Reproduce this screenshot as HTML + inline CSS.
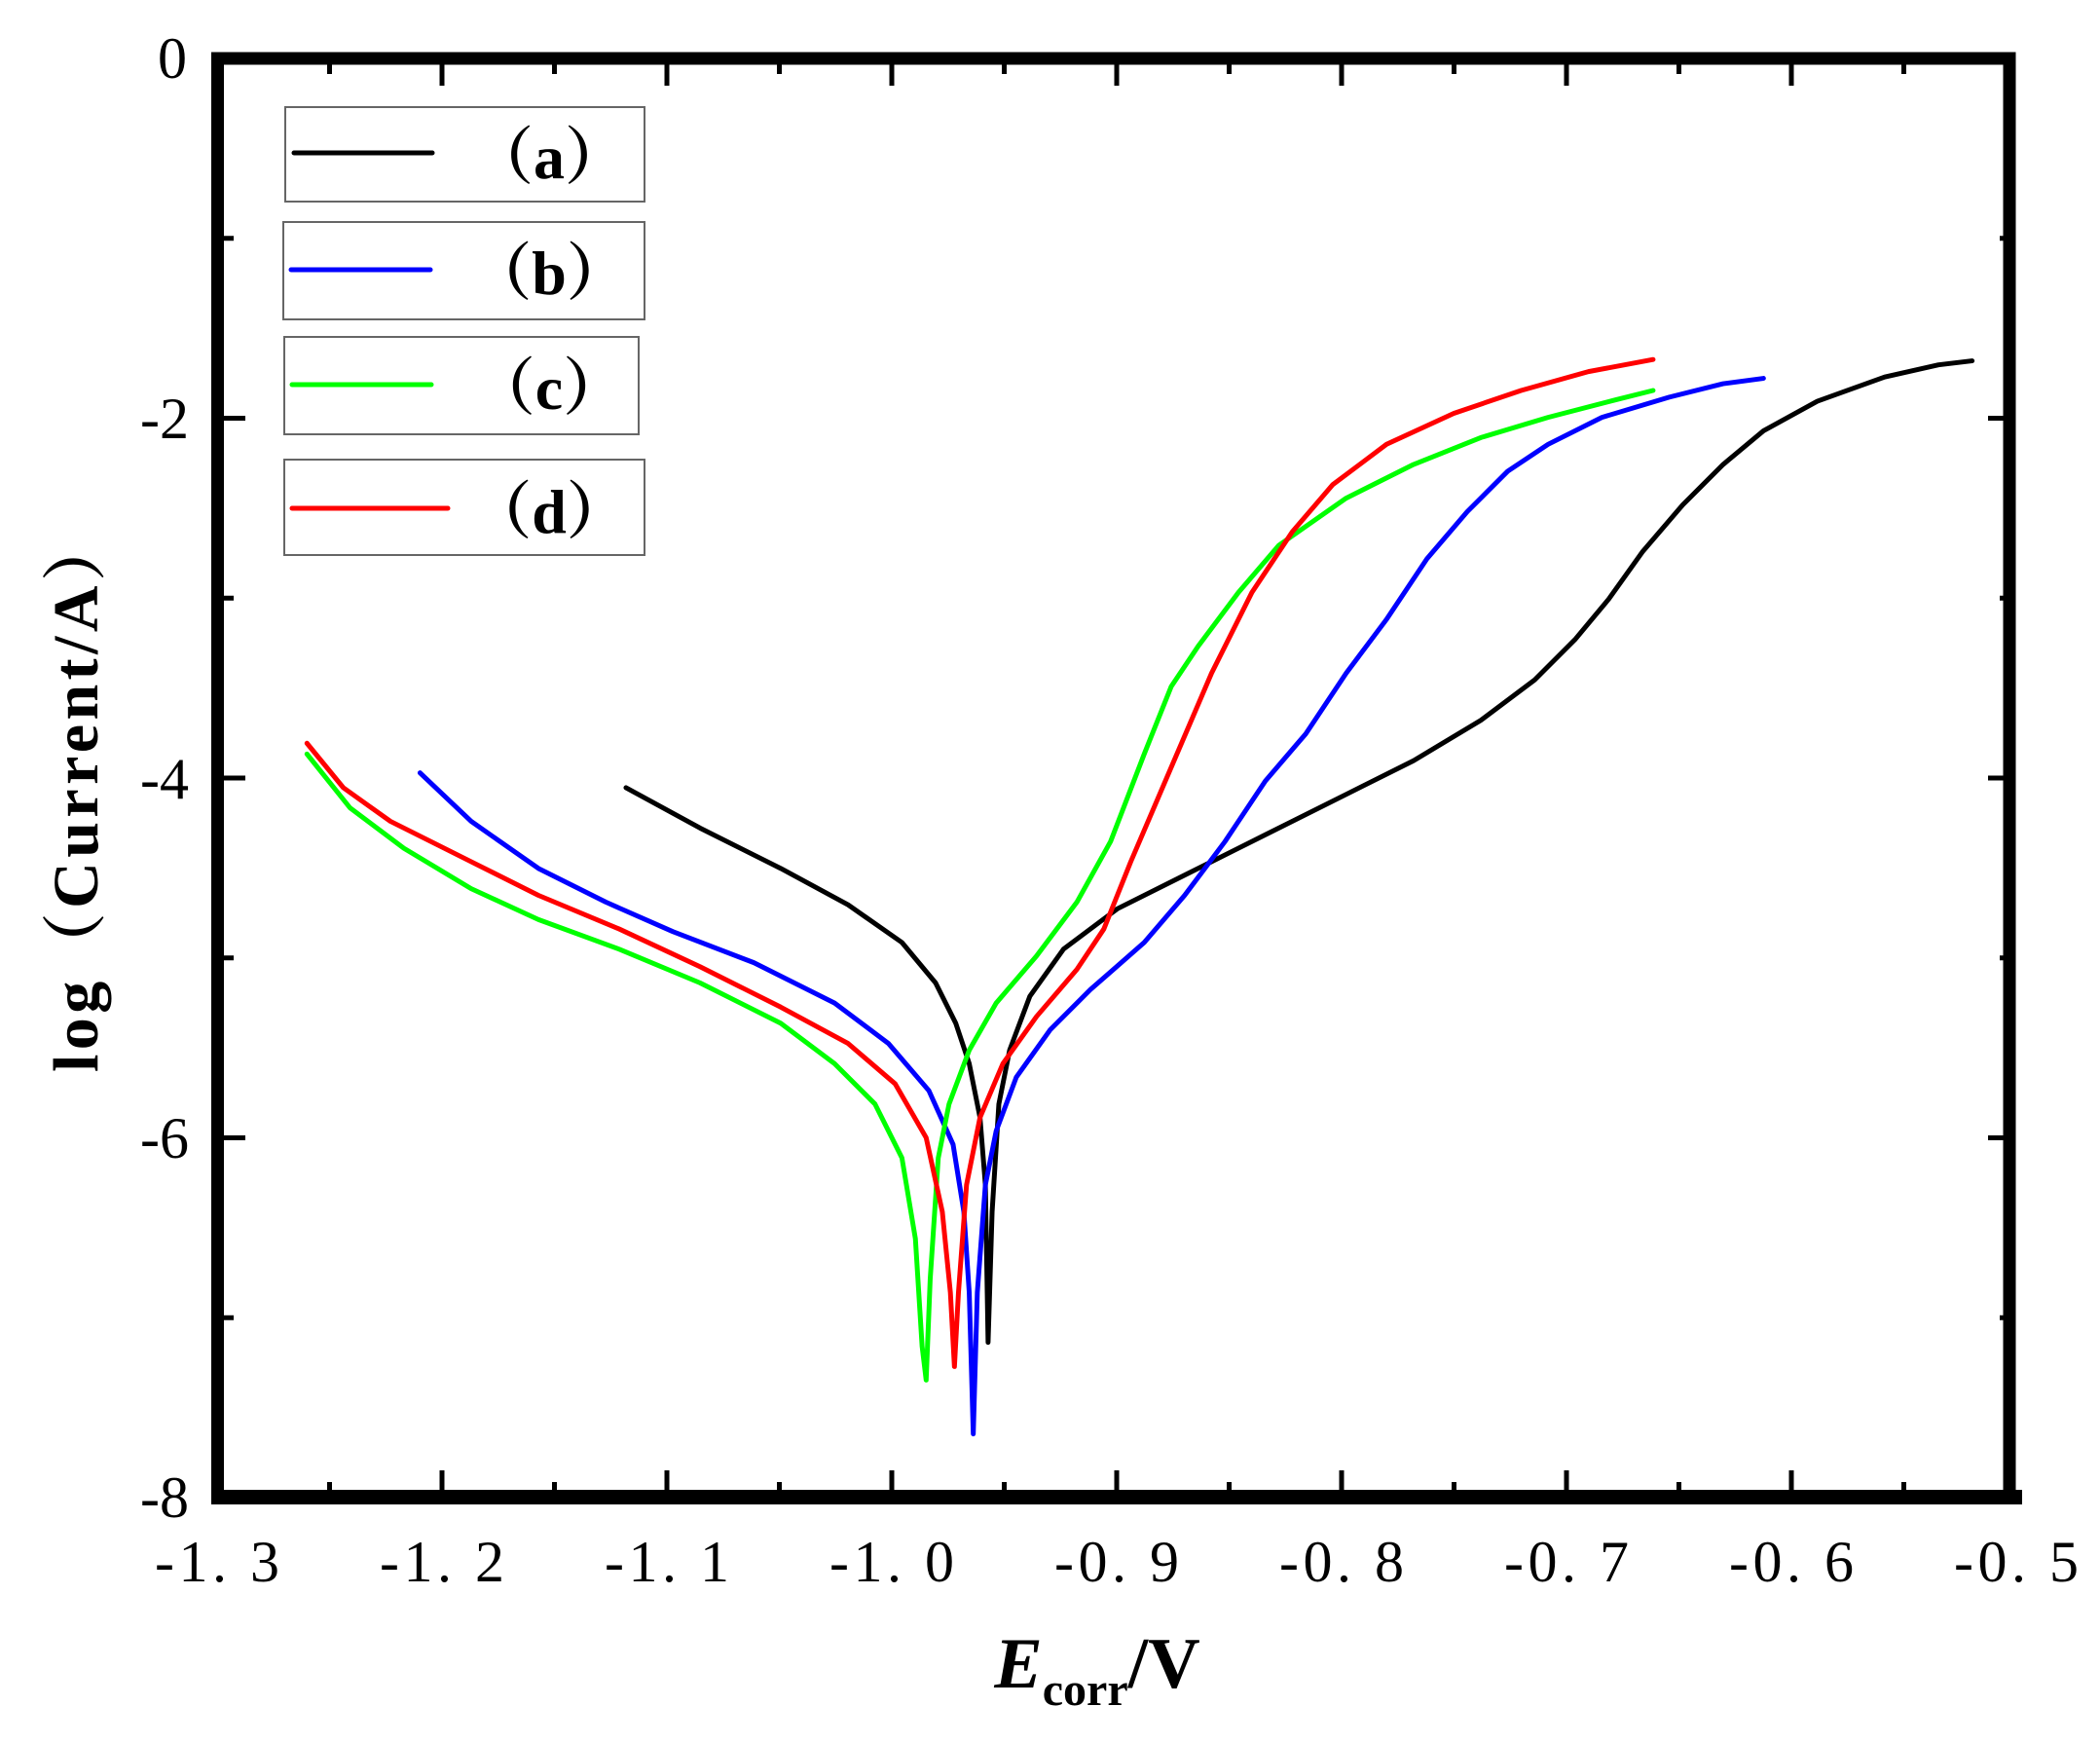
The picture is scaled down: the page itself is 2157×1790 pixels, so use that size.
<!DOCTYPE html>
<html><head><meta charset="utf-8"><style>html,body{margin:0;padding:0;background:#fff}svg{display:block}</style></head>
<body>
<svg width="2157" height="1790" viewBox="0 0 2157 1790" xmlns="http://www.w3.org/2000/svg">
<g stroke="#000" stroke-width="5">
<g id="xt">
<line x1="223" y1="1532" x2="223" y2="1510"/><line x1="338.5" y1="1532" x2="338.5" y2="1522"/>
<line x1="454" y1="1532" x2="454" y2="1510"/><line x1="569.5" y1="1532" x2="569.5" y2="1522"/>
<line x1="685" y1="1532" x2="685" y2="1510"/><line x1="800.5" y1="1532" x2="800.5" y2="1522"/>
<line x1="916" y1="1532" x2="916" y2="1510"/><line x1="1031.5" y1="1532" x2="1031.5" y2="1522"/>
<line x1="1147" y1="1532" x2="1147" y2="1510"/><line x1="1262.5" y1="1532" x2="1262.5" y2="1522"/>
<line x1="1378" y1="1532" x2="1378" y2="1510"/><line x1="1493.5" y1="1532" x2="1493.5" y2="1522"/>
<line x1="1609" y1="1532" x2="1609" y2="1510"/><line x1="1724.5" y1="1532" x2="1724.5" y2="1522"/>
<line x1="1840" y1="1532" x2="1840" y2="1510"/><line x1="1955.5" y1="1532" x2="1955.5" y2="1522"/>
</g>
<use href="#xt" transform="translate(0,1598) scale(1,-1)"/>
<g id="yt">
<line x1="230" y1="244.75" x2="240" y2="244.75"/><line x1="230" y1="429.5" x2="252" y2="429.5"/>
<line x1="230" y1="614.25" x2="240" y2="614.25"/><line x1="230" y1="799" x2="252" y2="799"/>
<line x1="230" y1="983.75" x2="240" y2="983.75"/><line x1="230" y1="1168.5" x2="252" y2="1168.5"/>
<line x1="230" y1="1353.25" x2="240" y2="1353.25"/>
</g>
<use href="#yt" transform="translate(2294,0) scale(-1,1)"/>
</g>
<rect x="223.5" y="60" width="1840.5" height="1478" fill="none" stroke="#000" stroke-width="13"/>
<rect x="217" y="1530" width="1860" height="15" fill="#000"/>

<g font-family="Liberation Serif, serif" font-size="60" fill="#000">
<g text-anchor="end">
<text x="192" y="80">0</text>
<text x="194" y="450">-2</text>
<text x="194" y="820">-4</text>
<text x="194" y="1189">-6</text>
<text x="194" y="1558">-8</text>
</g>
<g text-anchor="middle" transform="translate(0,1624)">
<text x="223" textLength="128">-1. 3</text>
<text x="454" textLength="128">-1. 2</text>
<text x="685" textLength="128">-1. 1</text>
<text x="916" textLength="128">-1. 0</text>
<text x="1147" textLength="128">-0. 9</text>
<text x="1378" textLength="128">-0. 8</text>
<text x="1609" textLength="128">-0. 7</text>
<text x="1840" textLength="128">-0. 6</text>
<text x="2071" textLength="128">-0. 5</text>
</g>
</g>

<text transform="translate(100,816) rotate(-90)" text-anchor="middle" font-family="Liberation Serif, 'Noto Serif CJK SC', serif" font-weight="bold" font-size="66" textLength="570">log（Current/A）</text>
<text x="1127" y="1733" text-anchor="middle" font-family="Liberation Serif, serif" font-weight="bold" font-size="74"><tspan font-style="italic">E</tspan><tspan font-size="48" dy="18">corr</tspan><tspan dy="-18">/V</tspan></text>

<g fill="#fff" stroke="#666" stroke-width="2">
<rect x="293" y="110" width="369" height="97"/>
<rect x="291" y="228" width="371" height="100"/>
<rect x="292" y="346" width="364" height="100"/>
<rect x="292" y="472" width="370" height="98"/>
</g>
<g stroke-width="5" stroke-linecap="round">
<line x1="302" y1="157" x2="444" y2="157" stroke="#000"/>
<line x1="299" y1="277" x2="442" y2="277" stroke="#00f"/>
<line x1="300" y1="395" x2="443" y2="395" stroke="#0f0"/>
<line x1="300" y1="522" x2="460" y2="522" stroke="#f00"/>
</g>
<g font-family="Liberation Serif, 'Noto Serif CJK SC', serif" font-weight="bold" font-size="64" text-anchor="middle">
<text x="564" y="183">（a）</text>
<text x="564" y="302">（b）</text>
<text x="564" y="420">（c）</text>
<text x="564" y="547">（d）</text>
</g>

<g transform="scale(1.3827)" fill="none" stroke-width="3.6" stroke-linejoin="round" stroke-linecap="round">
<polyline stroke="#000" points="465,585 520,615 580,645 630,672 670,700 695,730 710,760 720,790 728,830 732,880 734,997 737,900 742,820 750,780 765,740 790,705 830,675 880,650 940,620 1000,590 1050,565 1100,535 1140,505 1170,475 1195,445 1220,410 1250,375 1280,345 1310,320 1350,298 1400,280 1440,271 1465,268"/>
<polyline stroke="#00f" points="312,574 350,610 400,645 450,670 500,692 560,715 620,745 660,775 690,810 708,850 716,900 720,960 723,1065 726,960 732,880 740,840 755,800 780,765 810,735 850,700 880,665 910,625 940,580 970,545 1000,500 1030,460 1060,415 1090,380 1120,350 1150,330 1190,310 1240,295 1280,285 1310,281"/>
<polyline stroke="#0f0" points="228,560 260,600 300,630 350,660 400,683 460,705 520,730 580,760 620,790 650,820 670,860 680,920 685,1000 688,1025 691,950 697,860 705,820 720,780 740,745 770,710 800,670 825,625 850,560 870,510 890,480 920,440 950,405 1000,370 1050,345 1100,325 1150,310 1200,297 1228,290"/>
<polyline stroke="#f00" points="228,552 255,585 290,610 350,640 400,665 460,690 520,718 580,748 630,775 665,805 688,845 700,900 706,960 709,1015 712,960 718,880 728,830 745,790 770,755 800,720 820,690 840,640 870,570 900,500 930,440 960,395 990,360 1030,330 1080,307 1130,290 1180,276 1228,267"/>
</g>
</svg>
</body></html>
